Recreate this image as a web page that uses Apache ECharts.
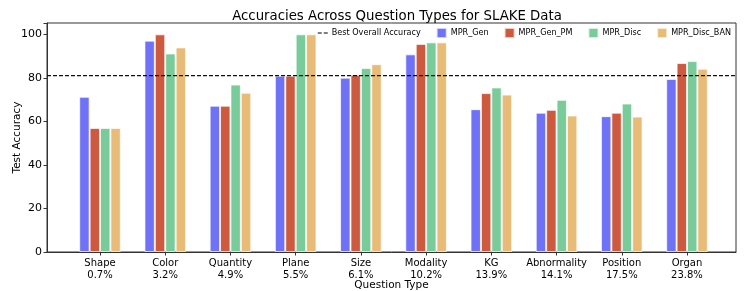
<!DOCTYPE html>
<html><head><meta charset="utf-8">
<script src="https://cdn.jsdelivr.net/npm/echarts@6/dist/echarts.min.js"></script>
<style>html,body{margin:0;padding:0;background:#fff}#c{width:747px;height:291px}</style>
</head><body><div id="c"></div>
<script>
const categories = ['Shape','Color','Quantity','Plane','Size','Modality','KG','Abnormality','Position','Organ'];
const shares = ['0.7%','3.2%','4.9%','5.5%','6.1%','10.2%','13.9%','14.1%','17.5%','23.8%'];
const mprGen = [71.3, 97.1, 67.2, 81.0, 80.1, 90.8, 65.6, 64.0, 62.4, 79.5];
const mprGenPM = [57.0, 100.0, 67.2, 81.0, 81.4, 95.6, 73.0, 65.3, 64.0, 86.8];
const mprDisc = [57.0, 91.2, 76.9, 100.0, 84.5, 96.3, 75.6, 69.9, 68.2, 87.7];
const mprDiscBAN = [57.0, 94.0, 73.2, 100.0, 86.3, 96.3, 72.3, 62.7, 62.2, 84.2];
const bestOverall = 81.0;
const yMax = 105.2;

const font = 'DejaVu Sans';
const chart = echarts.init(document.getElementById('c'), null, {renderer:'canvas'});
const barStyle = (c) => ({color: c, borderColor: 'rgba(255,255,255,0.7)', borderWidth: 1});
const seriesDefs = [
  ['MPR_Gen', mprGen, '#6f72f6'],
  ['MPR_Gen_PM', mprGenPM, '#cd5a3f'],
  ['MPR_Disc', mprDisc, '#79cc9a'],
  ['MPR_Disc_BAN', mprDiscBAN, '#e8bc76']
];
const option = {
  animation: false,
  textStyle: {fontFamily: font},
  title: {text: 'Accuracies Across Question Types for SLAKE Data', left: 392, textAlign: 'center', top: 5,
    textStyle: {fontFamily: font, fontSize: 13.3, fontWeight: 'normal', color: '#000'}},
  legend: {
    top: 27, right: 16, itemGap: 15, itemWidth: 10, itemHeight: 10, padding: 0,
    textStyle: {fontFamily: font, fontSize: 8.1, color: '#000', padding: [0, 0, 0, -1]},
    data: [
      {name: 'Best Overall Accuracy', icon: 'path://M0,4 L4,4 L4,5.2 L0,5.2 Z M6,4 L10,4 L10,5.2 L6,5.2 Z', itemStyle:{color:'#000'}},
      {name: 'MPR_Gen', icon: 'rect'}, {name: 'MPR_Gen_PM', icon: 'rect'},
      {name: 'MPR_Disc', icon: 'rect'}, {name: 'MPR_Disc_BAN', icon: 'rect'}
    ]
  },
  grid: [
    {left: 47, width: 689, top: 23, bottom: 39, outerBoundsMode: 'none', containLabel: false,
      show: true, borderColor: '#333', borderWidth: 1, backgroundColor: 'transparent'},
    {left: 67.4, width: 652.2, top: 23, bottom: 39, outerBoundsMode: 'none', containLabel: false}
  ],
  xAxis: [
    {gridIndex: 0, type: 'value', min: 0, max: 1, axisLabel: {show: false}, axisTick: {show: false}, splitLine: {show: false},
      axisLine: {show: true, lineStyle: {color: '#333'}},
      name: 'Question Type', nameLocation: 'middle', nameGap: 28, nameMoveOverlap: false,
      nameTextStyle: {fontFamily: font, fontSize: 10.5, color: '#000'}},
    {gridIndex: 1, type: 'category', data: categories, axisLine: {show: false},
      axisTick: {show: true, alignWithLabel: true, length: 3.5, lineStyle: {color: '#333'}},
      axisLabel: {interval: 0, margin: 5, fontFamily: font, fontSize: 10, color: '#000', lineHeight: 12,
        formatter: (v, i) => v + '\n' + shares[i]}}
  ],
  yAxis: [
    {gridIndex: 0, type: 'value', min: 0, max: yMax, interval: 20,
      axisLabel: {fontFamily: font, fontSize: 11, color: '#000', margin: 5,
        formatter: (v) => (v % 20 === 0 ? String(v) : '')},
      axisLine: {show: true, lineStyle: {color: '#333'}},
      axisTick: {show: true, length: 3.5, lineStyle: {color: '#333'}},
      splitLine: {show: false},
      name: 'Test Accuracy', nameLocation: 'middle', nameGap: 24, nameRotate: 90, nameMoveOverlap: false,
      nameTextStyle: {fontFamily: font, fontSize: 10.5, color: '#000'}},
    {gridIndex: 1, type: 'value', min: 0, max: yMax, show: false}
  ],
  series: [
    {name: 'Best Overall Accuracy', type: 'line', xAxisIndex: 0, yAxisIndex: 0, symbol: 'none', z: 5,
      data: [[0, bestOverall], [1, bestOverall]], itemStyle: {color: '#000'},
      lineStyle: {color: '#111', width: 1.2, type: [4, 2]}}
  ].concat(seriesDefs.map(([n, d, c]) => ({
    name: n, type: 'bar', xAxisIndex: 1, yAxisIndex: 1, data: d, barWidth: 10.4, barGap: '0%',
    itemStyle: barStyle(c)
  })))
};
chart.setOption(option);
</script></body></html>
